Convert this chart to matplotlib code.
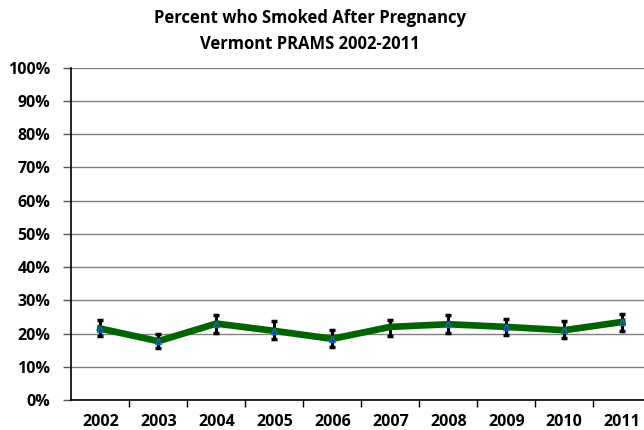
import numpy as np
from matplotlib import pyplot as plt

# dane
lata = ["2002", "2003", "2004", "2005", "2006", "2007", "2008", "2009", "2010", "2011"]
procent = [21.5, 17.7, 23.0, 20.8, 18.4, 22.0, 22.8, 22.0, 21.0, 23.5]
blad_gora = [2.7, 2.3, 2.5, 2.9, 2.6, 2.2, 2.7, 2.5, 2.8, 2.5]
blad_dol = [2.3, 2.2, 2.8, 2.3, 2.4, 2.7, 2.6, 2.5, 2.3, 2.8]
y_ticki = [0, 10, 20, 30, 40, 50, 60, 70, 80, 90, 100]

plt.rcParams['font.family'] = ['Open Sans', 'DejaVu Sans']

fig = plt.figure(figsize=(6.44, 4.30), dpi=100)
ax = fig.add_axes([71.3/644, 1-400/430, 580/644, 332.3/430])

x = np.arange(len(lata))
ax.errorbar(x, procent, yerr=[blad_dol, blad_gora], fmt='none', ecolor='black',
            elinewidth=2.2, capsize=2.5, capthick=2.5, zorder=3)
ax.plot(x, procent, color='#006400', linewidth=4.8, zorder=4)
# brak znacznika dla 2007 na oryginale
znaczniki = [0, 1, 2, 3, 4, 6, 7, 8, 9]
ax.plot(x, procent, linestyle='none', marker='^', markersize=5, markerfacecolor='none',
        markeredgecolor='#1f5fd6', markeredgewidth=1.0, markevery=znaczniki, zorder=5)

ax.set_ylim(0, 100)
ax.set_xlim(-0.5, 9.5)
ax.set_yticks(y_ticki)
ax.set_yticklabels([str(v) + "%" for v in y_ticki], fontsize=11.5, fontweight='bold')
ax.yaxis.grid(True, color='#808080', linewidth=1.0)
ax.set_axisbelow(True)

ax.set_xticks(np.arange(0.5, 9.5, 1))
ax.set_xticklabels([])
ax.set_xticks(x, minor=True)
ax.set_xticklabels(lata, minor=True, fontsize=11.5, fontweight='bold')
ax.tick_params(axis='x', which='major', direction='out', length=5, width=1, color='black')
ax.tick_params(axis='x', which='minor', length=0, pad=10)
ax.tick_params(axis='y', direction='out', length=6, width=1, color='#555555', pad=9)

ax.spines['top'].set_visible(False)
ax.spines['right'].set_visible(False)
ax.spines['left'].set_color('black')
ax.spines['bottom'].set_color('black')
ax.spines['left'].set_linewidth(1.2)
ax.spines['bottom'].set_linewidth(1.2)

fig.text(310/644, 1-18/430, "Percent who Smoked After Pregnancy", ha='center', va='center',
         fontsize=12, fontweight='bold')
fig.text(310/644, 1-44/430, "Vermont PRAMS 2002-2011", ha='center', va='center',
         fontsize=12, fontweight='bold')

plt.savefig("out.png", dpi=100)
